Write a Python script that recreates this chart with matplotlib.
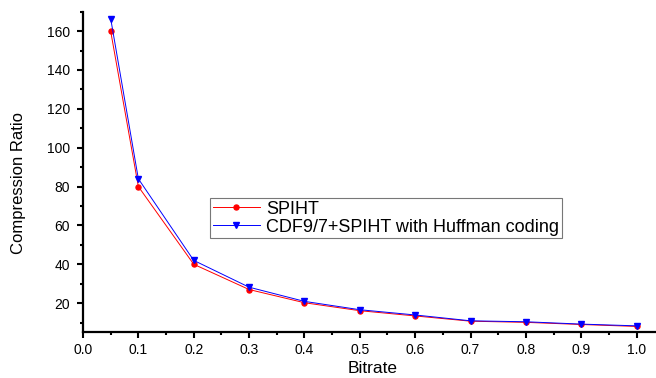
import matplotlib
matplotlib.use("Agg")
import matplotlib.pyplot as plt
from matplotlib.ticker import MultipleLocator

plt.rcParams['font.family'] = ['Liberation Sans', 'DejaVu Sans']

bitrate = [0.05, 0.1, 0.2, 0.3, 0.4, 0.5, 0.6, 0.7, 0.8, 0.9, 1.0]
spiht = [160, 80, 40, 27, 20.2, 16.1, 13.4, 10.7, 10.1, 9.0, 8.0]
huffman = [166.5, 84, 42, 28.2, 20.9, 16.6, 13.9, 10.9, 10.4, 9.2, 8.3]

fig = plt.figure(figsize=(6.56, 3.78), dpi=100)
ax = fig.add_axes([0.1265, 0.121, 0.8735, 0.848])

ax.plot(bitrate, spiht, color='red', lw=0.7, marker='o', ms=3.6, label='SPIHT')
ax.plot(bitrate, huffman, color='blue', lw=0.7, marker='v', ms=4.5,
        label='CDF9/7+SPIHT with Huffman coding')

ax.set_xlim(0, 1.035)
ax.set_ylim(5, 170)
ax.xaxis.set_major_locator(MultipleLocator(0.1))
ax.xaxis.set_minor_locator(MultipleLocator(0.05))
ax.yaxis.set_minor_locator(MultipleLocator(10))
ax.set_yticks(range(20, 161, 20))

for s in ['top', 'right']:
    ax.spines[s].set_visible(False)
for s in ['left', 'bottom']:
    ax.spines[s].set_linewidth(1.6)
ax.tick_params(which='major', direction='out', length=4.5, width=1.5, labelsize=10)
ax.tick_params(which='minor', direction='out', length=2.5, width=1.5)
ax.tick_params(axis='x', which='major', pad=3.5)
ax.tick_params(axis='y', which='major', pad=5)

ax.set_xlabel('Bitrate', fontsize=12.5, va='center')
ax.set_ylabel('Compression Ratio', fontsize=12, va='center')
ax.xaxis.set_label_coords(0.506, -0.112)
ax.yaxis.set_label_coords(-0.112, 0.467)

leg = ax.legend(loc='upper left', bbox_to_anchor=(0.2216, 0.419), fontsize=13,
                frameon=True, fancybox=False, edgecolor='#555555', borderpad=0.15,
                labelspacing=0.05, handlelength=2.6, handletextpad=0.35, borderaxespad=0)
leg.get_frame().set_linewidth(0.8)

fig.savefig('out.png', dpi=100)
